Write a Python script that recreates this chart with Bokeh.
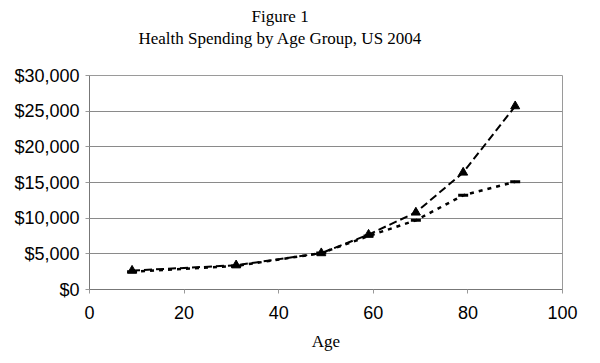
from bokeh.plotting import figure
from bokeh.models import Title, NumeralTickFormatter, FixedTicker, Range1d
from bokeh.embed import file_html
from bokeh.resources import INLINE

title_main = "Figure 1"
title_sub = "Health Spending by Age Group, US 2004"
ages = [9, 31, 49, 59, 69, 79, 90]
spend_a = [2650, 3400, 5100, 7700, 10800, 16400, 25700]
spend_b = [2500, 3300, 5100, 7500, 9700, 13200, 15100]
x_ticks = [0, 20, 40, 60, 80, 100]
y_ticks = [0, 5000, 10000, 15000, 20000, 25000, 30000]

p = figure(width=600, height=363, output_backend="svg", toolbar_location=None,
           x_range=Range1d(0, 100), y_range=Range1d(0, 30000),
           min_border_left=89, min_border_right=38, min_border_top=75, min_border_bottom=74)

# spacer panel between the frame and the subtitle
p.add_layout(Title(text=" ", text_font="Liberation Serif", text_font_size="17px",
                   standoff=6), "above")
p.add_layout(Title(text=title_sub, align="left", offset=49,
                   text_font="Liberation Serif", text_font_size="17px", text_color="black",
                   text_font_style="normal", standoff=2), "above")
p.add_layout(Title(text=title_main, align="left", offset=162,
                   text_font="Liberation Serif", text_font_size="17px", text_color="black",
                   text_font_style="normal", standoff=0), "above")

p.line(ages, spend_a, line_color="black", line_width=2, line_dash="8 4")
p.line(ages, spend_b, line_color="black", line_width=2.5, line_dash="4 5")
p.scatter(ages, spend_a, marker="triangle", size=9, fill_color="black", line_color="black")
p.scatter(ages, spend_b, marker="dash", size=10, line_color="black", line_width=3)

p.xaxis.ticker = FixedTicker(ticks=x_ticks)
p.yaxis.ticker = FixedTicker(ticks=y_ticks)
p.yaxis.formatter = NumeralTickFormatter(format="$0,0")
for ax in (p.xaxis[0], p.yaxis[0]):
    ax.major_label_text_font = "Liberation Sans"
    ax.major_label_text_font_size = "18px"
    ax.major_label_text_color = "black"
    ax.axis_line_color = "#777777"
    ax.major_tick_line_color = "#999999"
    ax.minor_tick_line_color = None
    ax.major_tick_out = 4
    ax.major_tick_in = 0
p.yaxis.major_label_standoff = 6
p.xaxis.axis_label = "Age"
p.xaxis.axis_label_text_font = "Liberation Serif"
p.xaxis.axis_label_text_font_style = "normal"
p.xaxis.axis_label_text_font_size = "17px"
p.xaxis.axis_label_text_color = "black"
p.xaxis.axis_label_standoff = 10
p.xaxis.major_label_standoff = 12

p.xgrid.grid_line_color = None
p.ygrid.grid_line_color = "#8a8a8a"
p.ygrid.grid_line_width = 1
p.outline_line_color = "#9a9a9a"
p.outline_line_width = 1
p.background_fill_color = "white"
p.border_fill_color = "white"

open("out.html", "w").write(file_html(p, INLINE))
